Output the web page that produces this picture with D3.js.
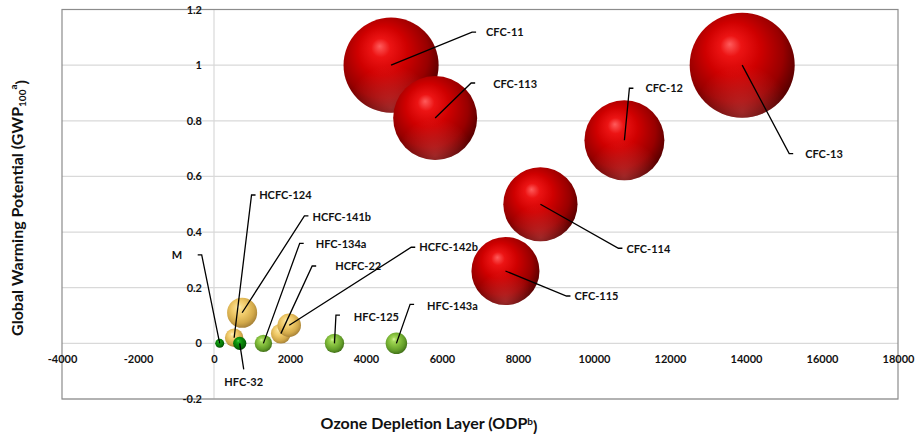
<!DOCTYPE html>
<html>
<head>
<meta charset="utf-8">
<script src="https://cdn.jsdelivr.net/npm/d3@7"></script>
<style>
  body { margin: 0; background: #fff; }
  #vis { width: 915px; height: 434px; }
  text { font-family: Lato, "Open Sans", sans-serif; font-weight: bold; fill: #111; }
</style>
</head>
<body>
<div id="vis"></div>
<script>
// refrigerants
var names = ['CFC-11', 'CFC-12', 'CFC-13', 'CFC-113', 'CFC-114', 'CFC-115',
  'HCFC-22', 'HCFC-124', 'HCFC-141b', 'HCFC-142b',
  'HFC-134a', 'HFC-125', 'HFC-143a', 'HFC-32', 'M'];
var gwp = [4660, 10800, 13900, 5820, 8590, 7670, 1760, 530, 740, 1980, 1300, 3170, 4800, 677, 150];
var odp = [1.0, 0.73, 1.0, 0.81, 0.50, 0.26, 0.035, 0.02, 0.11, 0.065, 0, 0, 0, 0, 0];
var sizes = [82, 58, 100, 64, 50, 42, 3.6, 3.1, 8.2, 5.0, 2.75, 3.4, 4.2, 1.6, 0.73];
var groups = ['cfc', 'cfc', 'cfc', 'cfc', 'cfc', 'cfc', 'hcfc', 'hcfc', 'hcfc', 'hcfc',
  'hfc', 'hfc', 'hfc', 'dark', 'dark'];

var xTicks = [-4000, -2000, 0, 2000, 4000, 6000, 8000, 10000, 12000, 14000, 16000, 18000];
var yTicks = [-0.2, 0, 0.2, 0.4, 0.6, 0.8, 1, 1.2];

// label placement (pixel offsets from bubble centre): leader kink k, text t
var labelPos = {
  'CFC-11': { k: [81, -33], t: [95, -33] },
  'CFC-113': { k: [36, -35], t: [58, -34] },
  'CFC-12': { k: [5, -52], t: [21, -52] },
  'CFC-13': { k: [47, 88.5], t: [63, 89] },
  'CFC-114': { k: [78, 44], t: [86, 45] },
  'CFC-115': { k: [61, 25], t: [69, 25] },
  'M': { k: [-18, -88.5], t: [-37.5, -88.5], anchor: 'end' },
  'HFC-32': { k: [4, 26], t: [4, 38.5], anchor: 'middle' },
  'HCFC-124': { k: [17.4, -142.8], t: [25, -142.3] },
  'HCFC-141b': { k: [62.3, -96.8], t: [70.3, -95.5] },
  'HFC-134a': { k: [36.3, -100], t: [52.3, -99.3] },
  'HCFC-22': { k: [31.3, -67.6], t: [54.3, -67.3] },
  'HCFC-142b': { k: [122, -78], t: [130, -77.7] },
  'HFC-125': { k: [1.5, -28.3], t: [19.3, -26.6] },
  'HFC-143a': { k: [13.7, -39], t: [30.7, -37.3] }
};

var width = 915, height = 434;
var margin = { top: 9.5, right: 17, bottom: 35, left: 62 };

var svg = d3.select('#vis')
  .append('svg')
  .attr('width', width)
  .attr('height', height);

var x = d3.scaleLinear()
  .domain([-4000, 18000])
  .range([margin.left, width - margin.right]);

var y = d3.scaleLinear()
  .domain([-0.2, 1.2])
  .range([height - margin.bottom, margin.top]);

var r = d3.scaleSqrt()
  .domain([0, 100])
  .range([0, 52.5]);

// sphere gradients
var defs = svg.append('defs');
var shades = {
  cfc: ['#ff5c5c', '#ec1414', '#cf0000', '#980000', '#480000'],
  hcfc: ['#fff4c8', '#f8dc8a', '#efc968', '#d2a94a', '#9e7a34'],
  hfc: ['#d8f7a0', '#a4d85a', '#86c03e', '#629c28', '#3a6616'],
  dark: ['#5ad85a', '#1aa81a', '#0a8c0a', '#066e06', '#023c02']
};
Object.keys(shades).forEach(function(k) {
  var g = defs.append('radialGradient')
    .attr('id', 'g-' + k)
    .attr('cx', '45%').attr('cy', '42%').attr('r', '62%')
    .attr('fx', '38%').attr('fy', '30%');
  [0, 0.16, 0.42, 0.74, 1].forEach(function(o, i) {
    g.append('stop').attr('offset', o).attr('stop-color', shades[k][i]);
  });
});
var refl = defs.append('radialGradient')
  .attr('id', 'refl')
  .attr('cx', '50%').attr('cy', '95%').attr('r', '45%');
refl.append('stop').attr('offset', 0).attr('stop-color', '#ff7070').attr('stop-opacity', 0.35);
refl.append('stop').attr('offset', 1).attr('stop-color', '#ff7070').attr('stop-opacity', 0);

// grid
svg.append('g')
  .selectAll('line')
  .data(yTicks)
  .enter()
  .append('line')
  .attr('x1', x(-4000)).attr('x2', x(18000))
  .attr('y1', function(d) { return y(d); })
  .attr('y2', function(d) { return y(d); })
  .attr('stroke', '#d9d9d9')
  .attr('stroke-width', 1.2);

svg.append('line')
  .attr('x1', x(0)).attr('x2', x(0))
  .attr('y1', y(-0.2)).attr('y2', y(1.2))
  .attr('stroke', '#d9d9d9')
  .attr('stroke-width', 1.2);

svg.append('rect')
  .attr('x', x(-4000)).attr('y', y(1.2))
  .attr('width', x(18000) - x(-4000))
  .attr('height', y(-0.2) - y(1.2))
  .attr('fill', 'none')
  .attr('stroke', '#8c8c8c')
  .attr('stroke-width', 1.2);

// axes cross at 0
var x_axis = d3.axisBottom(x)
  .tickValues(xTicks)
  .tickSize(0)
  .tickPadding(12)
  .tickFormat(function(d) { return String(d); });

var y_axis = d3.axisLeft(y)
  .tickValues(yTicks)
  .tickSize(0)
  .tickPadding(12)
  .tickFormat(function(d) { return String(d); });

svg.append('g')
  .attr('transform', 'translate(0,' + y(0) + ')')
  .call(x_axis)
  .call(function(g) { g.select('.domain').remove(); })
  .selectAll('text')
  .style('font-size', '11px')
  .style('font-family', 'Lato, sans-serif')
  .style('font-weight', 'bold')
  .attr('fill', '#111');

svg.append('g')
  .attr('transform', 'translate(' + x(0) + ',0)')
  .call(y_axis)
  .call(function(g) { g.select('.domain').remove(); })
  .selectAll('text')
  .style('font-size', '11px')
  .style('font-family', 'Lato, sans-serif')
  .style('font-weight', 'bold')
  .attr('fill', '#111');

// bubbles
var data = names.map(function(n, i) {
  return { name: n, gwp: gwp[i], odp: odp[i], size: sizes[i], group: groups[i] };
});

var bubbles = svg.append('g')
  .selectAll('g')
  .data(data)
  .enter()
  .append('g');

bubbles.append('circle')
  .attr('cx', function(d) { return x(d.gwp); })
  .attr('cy', function(d) { return y(d.odp); })
  .attr('r', function(d) { return r(d.size); })
  .attr('fill', function(d) { return 'url(#g-' + d.group + ')'; });

bubbles.filter(function(d) { return d.group === 'cfc'; })
  .append('circle')
  .attr('cx', function(d) { return x(d.gwp); })
  .attr('cy', function(d) { return y(d.odp); })
  .attr('r', function(d) { return r(d.size); })
  .attr('fill', 'url(#refl)');

// leader lines + labels
var labels = svg.append('g')
  .selectAll('g')
  .data(data)
  .enter()
  .append('g');

labels.append('path')
  .attr('fill', 'none')
  .attr('stroke', '#000')
  .attr('stroke-width', 1.3)
  .attr('d', function(d) {
    var p = labelPos[d.name];
    var cx = x(d.gwp), cy = y(d.odp);
    var kx = cx + p.k[0], ky = cy + p.k[1];
    var path = 'M' + cx + ',' + cy + 'L' + kx + ',' + ky;
    if (p.anchor !== 'middle') {
      var dir = p.t[0] > p.k[0] ? 4 : -4;
      path += 'L' + (kx + dir) + ',' + ky;
    }
    return path;
  });

labels.append('text')
  .attr('x', function(d) { return x(d.gwp) + labelPos[d.name].t[0]; })
  .attr('y', function(d) { return y(d.odp) + labelPos[d.name].t[1]; })
  .attr('dy', '0.35em')
  .attr('text-anchor', function(d) { return labelPos[d.name].anchor || 'start'; })
  .style('font-size', '11px')
  .text(function(d) { return d.name; });

// axis titles
var xt = svg.append('text')
  .attr('x', 429)
  .attr('y', 429)
  .attr('text-anchor', 'middle')
  .style('font-size', '16px')
  .text('Ozone Depletion Layer (ODP');
xt.append('tspan').attr('dy', '-0.45em').style('font-size', '10px').text('b');
xt.append('tspan').attr('dy', '0.45em').text(')');

var yt = svg.append('text')
  .attr('text-anchor', 'middle')
  .attr('transform', 'translate(23,208)rotate(-90)')
  .style('font-size', '16px')
  .text('Global Warming Potential (GWP');
yt.append('tspan').attr('dy', '0.3em').style('font-size', '10px').text('100');
yt.append('tspan').attr('dy', '-0.95em').style('font-size', '10px').text('a');
yt.append('tspan').attr('dy', '0.65em').text(')');
</script>
</body>
</html>
